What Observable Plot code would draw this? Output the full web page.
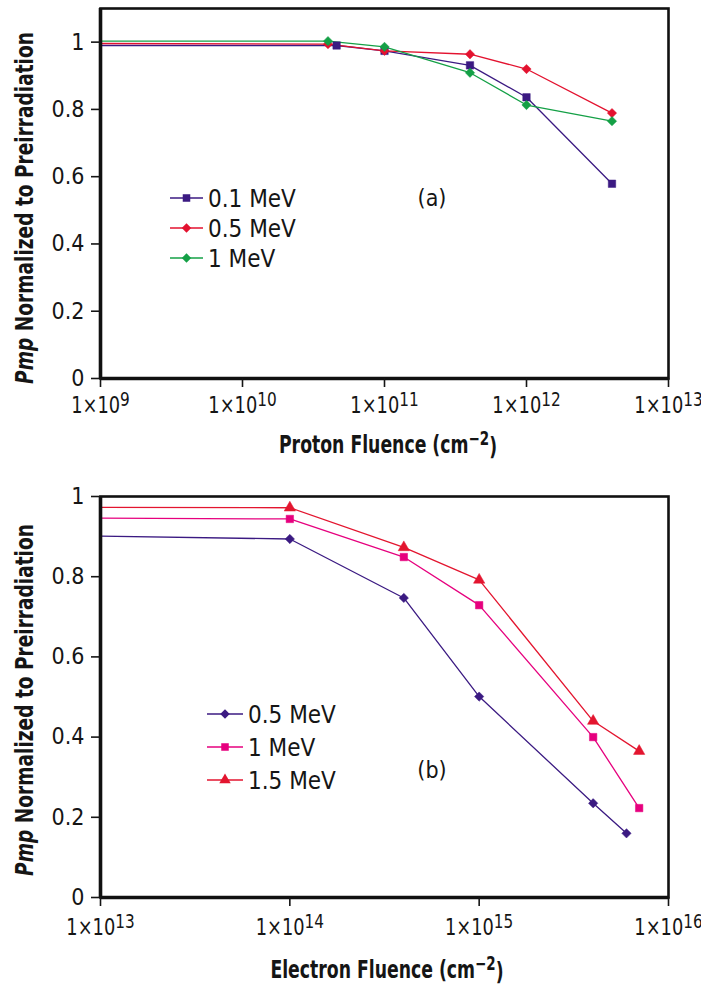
<!DOCTYPE html>
<html><head><meta charset="utf-8">
<script src="https://cdn.jsdelivr.net/npm/d3@7"></script>
<script src="https://cdn.jsdelivr.net/npm/@observablehq/plot@0.6"></script>
<style>
body{margin:0;background:#fff;}
#wrap{position:relative;width:701px;height:984px;background:#fff;}
#wrap svg{position:absolute;left:0;overflow:visible;}
</style></head><body><div id="wrap"></div>
<script>
const FONT = '"DejaVu Sans Condensed","Liberation Sans",sans-serif';

// ---- Panel (a): proton fluence ----
const protonSeries = ["0.1 MeV", "0.5 MeV", "1 MeV"];
const protonColors = ["#3b1a82", "#e3122f", "#14a046"];
const protonSymbols = ["square", "diamond2", "diamond2"];
const protonFluence01 = [1e9, 4.6e10, 1e11, 4e11, 1e12, 4e12];
const proton01 = [0.990, 0.990, 0.974, 0.931, 0.836, 0.579];
const protonFluence05 = [1e9, 4e10, 1e11, 4e11, 1e12, 4e12];
const proton05 = [0.996, 0.994, 0.974, 0.964, 0.920, 0.789];
const protonFluence1 = [1e9, 4e10, 1e11, 4e11, 1e12, 4e12];
const proton1 = [1.003, 1.003, 0.986, 0.909, 0.813, 0.765];
const protonXTicks = [1e9, 1e10, 1e11, 1e12, 1e13];
const protonYTicks = [0, 0.2, 0.4, 0.6, 0.8, 1];

// ---- Panel (b): electron fluence ----
const electronSeries = ["0.5 MeV", "1 MeV", "1.5 MeV"];
const electronColors = ["#3b1a82", "#e6007e", "#e3152f"];
const electronSymbols = ["diamond2", "square", "triangle"];
const electronFluence05 = [1e13, 1e14, 4e14, 1e15, 4e15, 6e15];
const electron05 = [0.901, 0.894, 0.747, 0.501, 0.235, 0.160];
const electronFluence1 = [1e13, 1e14, 4e14, 1e15, 4e15, 7e15];
const electron1 = [0.946, 0.944, 0.849, 0.729, 0.400, 0.223];
const electronFluence15 = [1e13, 1e14, 4e14, 1e15, 4e15, 7e15];
const electron15 = [0.973, 0.972, 0.873, 0.792, 0.440, 0.365];
const electronXTicks = [1e13, 1e14, 1e15, 1e16];
const electronYTicks = [0, 0.2, 0.4, 0.6, 0.8, 1];

function rows(series, xs, ys) {
  const out = [];
  series.forEach((s, i) => xs[i].forEach((x, j) => out.push({series: s, x, y: ys[i][j]})));
  return out;
}

// turn "1×10^9" tick labels into base + raised exponent, horizontally condensed (svg must be in the DOM)
function superscripts(svg) {
  d3.select(svg).selectAll("text").each(function () {
    const t = this.textContent;
    if (!t.includes("^")) return;
    const [base, sup] = t.split("^");
    const sel = d3.select(this);
    sel.text(null);
    sel.append("tspan").text(base);
    sel.append("tspan").attr("dy", "-0.36em").attr("font-size", "0.86em").text(sup);
    const bb = this.getBBox();
    let cx = bb.x + bb.width / 2;
    const cy = bb.y + bb.height / 2;
    const tl = this.transform && this.transform.baseVal;
    if (tl && tl.numberOfItems) {
      const m = tl.consolidate().matrix;
      cx = m.a * cx + m.c * cy + m.e;
    }
    const wrapG = document.createElementNS("http://www.w3.org/2000/svg", "g");
    wrapG.setAttribute("transform", `translate(${cx},0) scale(0.86,1) translate(${-cx},0)`);
    this.parentNode.insertBefore(wrapG, this);
    wrapG.appendChild(this);
  });
}

function panel(o) {
  const data = rows(o.series, o.xs, o.ys);
  const xmin = o.xdomain[0];
  const svg = Plot.plot({
    width: 701, height: o.height,
    marginLeft: 100, marginRight: 33, marginTop: o.marginTop, marginBottom: o.marginBottom,
    style: {fontFamily: FONT, fontSize: "23px", color: "#151515", background: "white", overflow: "visible"},
    x: {type: "log", domain: o.xdomain},
    y: {domain: o.ydomain},
    color: {domain: o.series, range: o.colors},
    symbol: {domain: o.series, range: o.symbols},
    marks: [
      Plot.line(data, {x: "x", y: "y", z: "series", stroke: "series", strokeWidth: 1.3}),
      Plot.dot(data.filter(d => d.x > xmin), {x: "x", y: "y", symbol: "series", fill: "series", stroke: "series", strokeWidth: 0.5, r: 4.2}),
      Plot.frame({stroke: "#111", strokeWidth: 2.6}),
      Plot.ruleX([xmin], {stroke: "#111", strokeWidth: 3.6}),
      Plot.ruleY([o.ydomain[0]], {stroke: "#111", strokeWidth: 3.6}),
      Plot.axisX({ticks: o.xticks, tickFormat: d => "1×10^" + Math.round(Math.log10(d)), tickSize: 9, tickPadding: o.xPad, strokeWidth: 1.6, label: null, fontSize: 23}),
      Plot.axisY({ticks: o.yticks, tickFormat: d => String(d), tickSize: 9, tickPadding: 7, strokeWidth: 1.6, label: null, fontSize: 23})
    ]
  });
  const g = d3.select(svg).append("g").attr("font-family", FONT).attr("fill", "#151515");
  // x-axis title (condensed bold)
  const xt = g.append("text")
    .attr("transform", `translate(${o.xtitle.x},${o.xtitle.y}) scale(${o.xtitle.sx},1)`)
    .attr("text-anchor", "middle").attr("font-weight", "bold").attr("font-size", 24);
  xt.append("tspan").text(o.xtitle.text + " (cm");
  xt.append("tspan").attr("dy", "-0.42em").attr("font-size", "0.78em").text("−2");
  xt.append("tspan").attr("dy", "0.42em").text(")");
  // y-axis title (condensed bold, rotated)
  const yt = g.append("text")
    .attr("transform", `translate(${o.ytitle.x},${o.ytitle.y}) rotate(-90) scale(0.86,1)`)
    .attr("text-anchor", "middle").attr("font-weight", "bold").attr("font-size", 24);
  yt.append("tspan").attr("font-style", "italic").text("Pmp");
  yt.append("tspan").text(" Normalized to Preirradiation");
  // panel tag
  g.append("text").attr("x", o.tag.x).attr("y", o.tag.y).attr("text-anchor", "middle").attr("font-size", 23).text(o.tag.text);
  // legend
  const sym = {square: d3.symbolSquare, diamond2: d3.symbolDiamond2, triangle: d3.symbolTriangle};
  o.series.forEach((s, i) => {
    const y = o.legend.y + i * o.legend.dy;
    g.append("line").attr("x1", o.legend.x).attr("x2", o.legend.x + o.legend.w).attr("y1", y).attr("y2", y)
      .attr("stroke", o.colors[i]).attr("stroke-width", 1.6);
    g.append("path").attr("transform", `translate(${o.legend.x + o.legend.w / 2},${y})`)
      .attr("d", d3.symbol(sym[o.symbols[i]], Math.PI * 18)()).attr("fill", o.colors[i]);
    g.append("text").attr("x", o.legend.x + o.legend.w + 5).attr("y", y + 8.5).attr("text-anchor", "start")
      .attr("font-size", 24).text(s);
  });
  return svg;
}

const wrap = document.getElementById("wrap");

const a = panel({
  height: 470, marginTop: 8, marginBottom: 92, xPad: 9,
  series: protonSeries, colors: protonColors, symbols: protonSymbols,
  xs: [protonFluence01, protonFluence05, protonFluence1], ys: [proton01, proton05, proton1],
  xdomain: [1e9, 1e13], ydomain: [0, 1.1], xticks: protonXTicks, yticks: protonYTicks,
  xtitle: {text: "Proton Fluence", x: 388, y: 453, sx: 0.8},
  ytitle: {x: 33, y: 208},
  tag: {text: "(a)", x: 432, y: 206},
  legend: {x: 170, w: 33, y: 198, dy: 30}
});
a.style.top = "0px";
wrap.appendChild(a);
superscripts(a);

const b = panel({
  height: 514, marginTop: 26, marginBottom: 87, xPad: 12,
  series: electronSeries, colors: electronColors, symbols: electronSymbols,
  xs: [electronFluence05, electronFluence1, electronFluence15], ys: [electron05, electron1, electron15],
  xdomain: [1e13, 1e16], ydomain: [0, 1], xticks: electronXTicks, yticks: electronYTicks,
  xtitle: {text: "Electron Fluence", x: 387, y: 508, sx: 0.8},
  ytitle: {x: 33, y: 230},
  tag: {text: "(b)", x: 432, y: 308},
  legend: {x: 207, w: 36, y: 244, dy: 33}
});
b.style.top = "470px";
wrap.appendChild(b);
superscripts(b);
</script></body></html>
